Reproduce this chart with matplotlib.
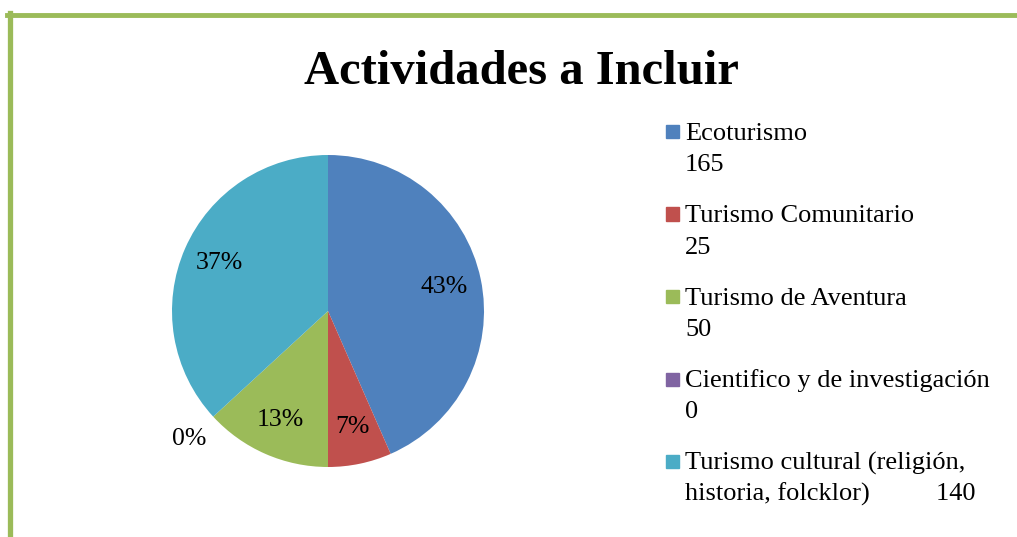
import matplotlib.pyplot as plt
from matplotlib.lines import Line2D
from matplotlib.patches import Rectangle
import numpy as np

categories = ['Ecoturismo', 'Turismo Comunitario', 'Turismo de Aventura',
              'Cientifico y de investigación',
              'Turismo cultural (religión, historia, folcklor)']
values = [165, 25, 50, 0, 140]
colors = ['#4F81BD', '#C0504D', '#9BBB59', '#8064A2', '#4BACC6']
title = 'Actividades a Incluir'

# legend text as it wraps in the original
legend_text = []
for cat, v in zip(categories, values):
    if cat.startswith('Turismo cultural'):
        legend_text.append(['Turismo cultural (religión,',
                            'historia, folcklor)          ' + str(v)])
    else:
        legend_text.append([cat, str(v)])

plt.rcParams['font.family'] = ['Liberation Serif', 'DejaVu Serif']

W, H = 1017, 537
fig = plt.figure(figsize=(W / 100, H / 100), dpi=100)

# pie area
ax = fig.add_axes([(328 - 156) / W, (H - 467) / H, 312 / W, 312 / H])
wedges, texts, autotexts = ax.pie(values, colors=colors, startangle=90,
                                  counterclock=False, autopct='%1.0f%%',
                                  pctdistance=0.76,
                                  textprops={'fontsize': 18.5},
                                  wedgeprops={'linewidth': 0})
ax.set_xlim(-1, 1)
ax.set_ylim(-1, 1)
ax.set_aspect('equal')
ax.axis('off')

# zero slice label sits outside the pie
for w, t, v in zip(wedges, autotexts, values):
    if v == 0:
        ang = np.deg2rad(w.theta1)
        t.set_position((1.21 * np.cos(ang), 1.21 * np.sin(ang)))

fig.text(521 / W, 1 - 84 / H, title, ha='center', va='baseline',
         fontsize=35, fontweight='bold')

# legend drawn by hand so the square lines up with the first line
for i, (lines, c) in enumerate(zip(legend_text, colors)):
    base = 140 + i * 82.5
    fig.patches.append(Rectangle((666 / W, 1 - (base - 2) / H), 13 / W, 13 / H,
                                 transform=fig.transFigure, color=c))
    for j, line in enumerate(lines):
        fig.text(685 / W, 1 - (base + j * 31) / H, line, va='baseline',
                 fontsize=19)

# green frame (top and left)
fig.add_artist(Line2D([7 / W, 1], [1 - 15 / H, 1 - 15 / H],
                      transform=fig.transFigure, color='#9BBB59', lw=3.5))
fig.add_artist(Line2D([9.5 / W, 9.5 / W], [0, 1 - 13 / H],
                      transform=fig.transFigure, color='#9BBB59', lw=3.8))

fig.savefig('out.png', dpi=100)
